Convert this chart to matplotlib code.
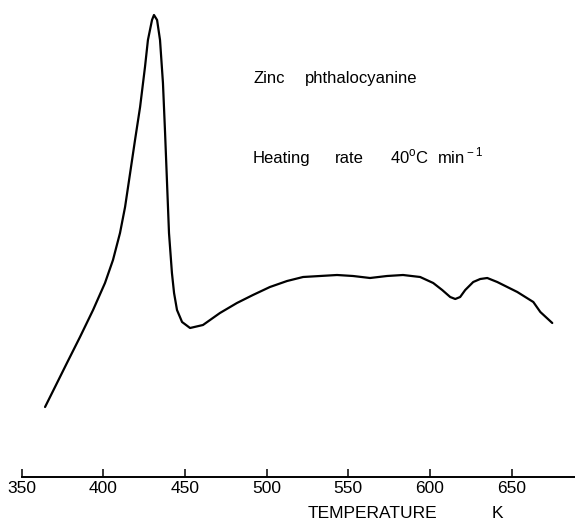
import matplotlib
matplotlib.use("Agg")
import matplotlib.pyplot as plt

# temperature (K) and signal (arbitrary units)
temperature = [364.3, 370.4, 377.7, 385.7, 393.7, 401.0, 405.9, 410.2, 413.3,
               416.4, 419.4, 422.5, 425.5, 427.3, 429.8, 431.0, 432.9, 434.7,
               436.5, 437.8, 439.0, 440.2, 442.0, 443.3, 445.1, 448.2, 453.1,
               461.0, 471.4, 481.8, 491.6, 502.0, 512.5, 522.3, 532.7, 543.1,
               552.9, 563.3, 573.7, 583.5, 594.0, 602.0, 607.5, 612.4, 615.5,
               618.5, 621.6, 626.5, 630.8, 635.1, 641.2, 653.5, 663.3, 667.6,
               674.9]
signal = [70, 90, 114, 140, 167, 194, 217, 244, 270,
          304, 337, 370, 410, 437, 457, 462, 457, 437,
          394, 344, 294, 244, 204, 184, 167, 155, 149,
          152, 164, 174, 182, 190, 196, 200, 201, 202,
          201, 199, 201, 202, 200, 194, 187, 180, 178,
          180, 187, 195, 198, 199, 195, 185, 175, 165,
          154]

xticks = [350, 400, 450, 500, 550, 600, 650]

plt.rcParams['font.family'] = ['Liberation Sans', 'DejaVu Sans']
plt.rcParams['mathtext.fontset'] = 'custom'
plt.rcParams['mathtext.rm'] = 'Liberation Sans'

fig = plt.figure(figsize=(5.75, 5.21), dpi=100)
ax = fig.add_axes([21.7 / 575, 44 / 521, (575 - 21.7) / 575, 477 / 521])

ax.plot(temperature, signal, color='black', lw=1.6,
        solid_capstyle='round', solid_joinstyle='round')

ax.set_xlim(350, 350 + (575 - 21.7) / 1.633)
ax.set_ylim(0, 477)

for s in ['left', 'top', 'right']:
    ax.spines[s].set_visible(False)
ax.spines['bottom'].set_linewidth(1.4)
ax.set_yticks([])
ax.set_xticks(xticks)
ax.tick_params(axis='x', direction='in', length=6, width=1.1, pad=3,
               labelsize=12.5)

def ftext(x, y, s, size):
    fig.text(x / 575, 1 - y / 521, s, fontsize=size, ha='left', va='baseline')

ftext(308, 518, 'TEMPERATURE', 12.5)
ftext(492, 518, 'K', 12.5)

ftext(253, 83, 'Zinc', 12)
ftext(305, 83, 'phthalocyanine', 12)
ftext(253, 163, 'Heating', 12)
ftext(335, 163, 'rate', 12)
ftext(390, 163, r'40$^{\rm o}$C', 12)
ftext(437, 163, r'min$^{\rm -1}$', 12)

plt.savefig('out.png', dpi=100)
